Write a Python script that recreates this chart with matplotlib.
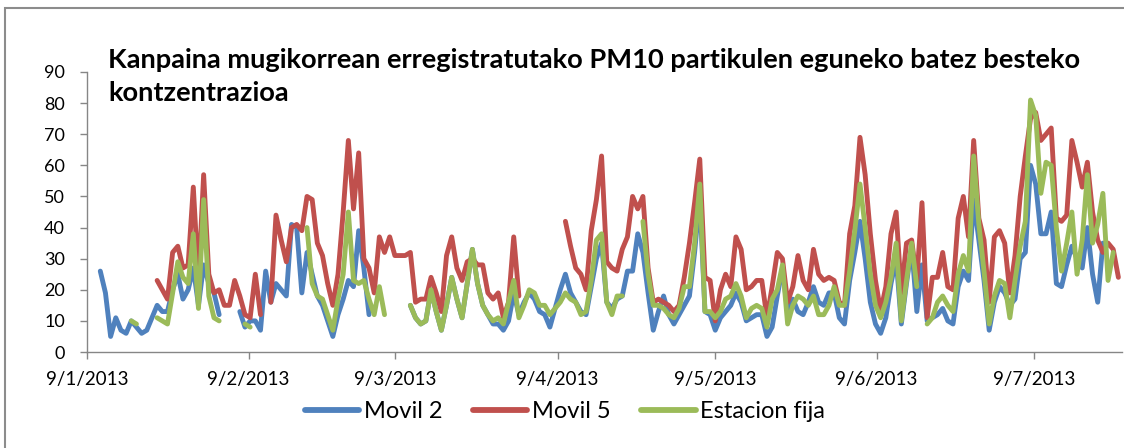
import numpy as np
import matplotlib
matplotlib.use('Agg')
import matplotlib.pyplot as plt
from matplotlib.patches import Rectangle

N = np.nan

# PM10 daily-average values (gaps = missing data)
movil2 = [
    26, 19, 5, 11, 7, 6, 10, 8, 6, 7,
    11, 15, 13, 13, 20, 25, 17, 20, 27, 15,
    28, 22, 19, 12, N, N, N, 13, 8, 10,
    10, 7, 26, 16, 22, 20, 18, 41, 40, 19,
    32, 25, 18, 15, 10, 5, 12, 17, 23, 21,
    39, 27, 12, N, N, N, N, N, N, N,
    15, 11, 9, 10, 20, 13, 7, 15, 24, 17,
    11, 22, 33, 22, 15, 12, 9, 9, 7, 10,
    19, 12, 16, 19, 17, 13, 12, 8, 14, 20,
    25, 19, 16, 13, 12, 21, 30, 35, 16, 14,
    17, 18, 26, 26, 38, 32, 19, 7, 13, 18,
    12, 9, 12, 15, 18, 32, 50, 13, 12, 7,
    11, 13, 15, 19, 16, 10, 11, 12, 12, 5,
    8, 18, 27, 13, 17, 13, 12, 16, 21, 16,
    15, 19, 19, 11, 9, 23, 32, 42, 30, 16,
    9, 6, 11, 22, 30, 9, 22, 34, 13, 28,
    10, 11, 12, 14, 10, 9, 21, 26, 23, 49,
    36, 23, 7, 16, 21, 19, 15, 17, 30, 32,
    60, 54, 38, 38, 45, 22, 21, 28, 34, 30,
    27, 40, 25, 16, 35, N, N, N,
]

movil5 = [
    N, N, N, N, N, N, N, N, N, N,
    N, 23, 20, 17, 32, 34, 27, 28, 53, 23,
    57, 25, 19, 20, 15, 15, 23, 18, 12, 11,
    25, 12, N, 16, 44, 36, 29, 40, 41, 39,
    50, 49, 35, 31, 22, 15, 25, 45, 68, 46,
    64, 30, 27, 19, 37, 32, 37, 31, 31, 31,
    32, 16, 17, 17, 24, 19, 13, 31, 37, 27,
    23, 29, 30, 28, 28, 19, 17, 19, 11, 16,
    37, 18, N, N, N, N, N, N, N, N,
    42, 34, 27, 25, 20, 39, 49, 63, 29, 27,
    26, 33, 37, 50, 46, 50, 27, 16, 17, 16,
    15, 13, 15, 24, 35, 48, 62, 24, 23, 10,
    20, 25, 21, 37, 33, 20, 21, 23, 23, 11,
    21, 32, 30, 16, 21, 31, 23, 20, 33, 25,
    23, 24, 23, 16, 15, 38, 47, 69, 57, 38,
    23, 13, 21, 38, 45, 19, 35, 36, 23, 48,
    11, 24, 24, 32, 21, 20, 43, 50, 37, 68,
    43, 36, 16, 37, 39, 35, 19, 31, 50, 63,
    75, 77, 68, 70, 72, 43, 42, 44, 68, 61,
    53, 61, 45, 36, 32, 35, 33, 24,
]

estacion_fija = [
    N, N, N, N, N, N, 10, 9, N, N,
    N, 11, 10, 9, 19, 29, 24, 22, 38, 14,
    49, 18, 11, 10, N, N, N, N, 9, 8,
    N, N, N, N, N, N, N, N, N, N,
    40, 22, 18, 17, 12, 7, 17, 25, 45, 23,
    22, 23, 17, 12, 21, 12, N, N, N, N,
    15, 11, 9, 10, 20, 13, 7, 15, 24, 17,
    11, 22, 33, 22, 15, 12, 10, 11, 9, 16,
    23, 11, 15, 20, 19, 15, 15, 12, 14, 16,
    19, 17, 16, 12, 13, 23, 36, 38, 16, 12,
    18, 18, N, N, N, 42, 25, 15, 15, 14,
    12, 11, 14, 21, 21, 35, 54, 13, 13, 11,
    13, 17, 18, 22, 18, 11, 14, 15, 14, 8,
    17, 20, 28, 9, 15, 18, 17, 15, 18, 12,
    12, 15, 21, 15, 15, 26, 39, 54, 40, 25,
    15, 11, 16, 24, 35, 10, 23, 35, 21, N,
    9, 11, 16, 18, 15, 13, 25, 31, 26, 63,
    41, 26, 9, 18, 23, 22, 11, 23, 34, 42,
    81, 76, 51, 61, 60, 40, 26, 35, 45, 25,
    36, 57, 35, 41, 51, 23, 32, N,
]

series_names = ['Movil 2', 'Movil 5', 'Estacion fija']
day_labels = ['9/1/2013', '9/2/2013', '9/3/2013', '9/4/2013',
              '9/5/2013', '9/6/2013', '9/7/2013']
title_lines = ['Kanpaina mugikorrean erregistratutako PM10 partikulen eguneko batez besteko',
               'kontzentrazioa']

# where each date label sits along the sample index
day_pos = [-2.57, 28.7, 57.1, 88.5, 119.0, 150.2, 180.7]
colors = ['#4F81BD', '#C0504D', '#9BBB59']

plt.rcParams['font.family'] = ['Lato', 'DejaVu Sans']

W, H = 1124, 448
fig = plt.figure(figsize=(W / 100, H / 100), dpi=100)
fig.patch.set_facecolor('white')

# outer chart border (cut off at right/bottom like the screenshot)
fig.patches.append(Rectangle((5 / W, -0.1), 1.2, (H - 8) / H + 0.1,
                             transform=fig.transFigure, fill=False,
                             edgecolor='#8C8C8C', lw=1.5))

ax = fig.add_axes([87 / W, 1 - 352 / H, (1122 - 87) / W, (352 - 72) / H])
ax.patch.set_alpha(0)

for vals, name, c in zip([movil2, movil5, estacion_fija], series_names, colors):
    y = np.array(vals, dtype=float)
    x = np.arange(len(y))
    ax.plot(x, y, color=c, lw=3.5, label=name,
            solid_joinstyle='round', solid_capstyle='round')

ax.set_ylim(0, 90)
ax.set_yticks(range(0, 91, 10))
ax.set_xlim(day_pos[0], 197.7)
ax.set_xticks(day_pos)
ax.set_xticklabels(day_labels)

for s in ['top', 'right']:
    ax.spines[s].set_visible(False)
for s in ['left', 'bottom']:
    ax.spines[s].set_color('#868686')
    ax.spines[s].set_linewidth(1.0)
ax.tick_params(axis='y', direction='out', length=5, width=1, color='#868686',
               labelsize=13, pad=11)
ax.tick_params(axis='x', direction='out', length=5, width=1, color='#868686',
               labelsize=13.5, pad=9)

# title: fit first line to the width it has in the reference
t1 = fig.text(108 / W, 1 - 68 / H, title_lines[0], fontsize=15, weight='bold',
              ha='left', va='baseline')
fig.canvas.draw()
w = t1.get_window_extent().width
fs = 15 * 977 / w
t1.set_fontsize(fs)
fig.text(108 / W, 1 - 101 / H, title_lines[1], fontsize=fs, weight='bold',
         ha='left', va='baseline')

leg = fig.legend(loc='center', bbox_to_anchor=(565 / W, 1 - 412 / H), ncol=3,
                 frameon=False, fontsize=17, handlelength=2.3, handletextpad=0.2,
                 columnspacing=1.3)
for ln in leg.get_lines():
    ln.set_linewidth(4.2)

fig.savefig('out.png', dpi=100)
